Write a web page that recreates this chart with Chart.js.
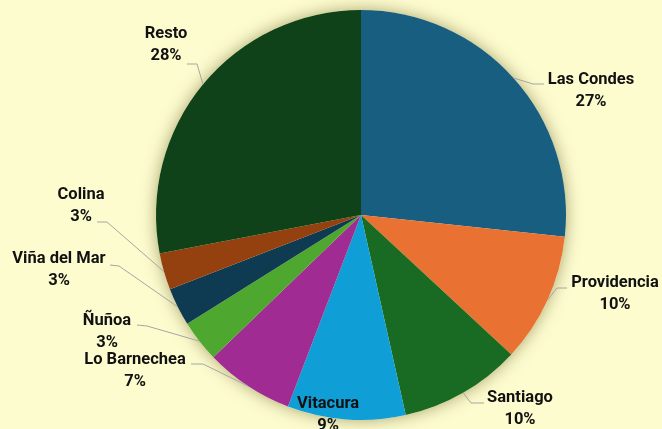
<!DOCTYPE html>
<html>
<head>
<meta charset="utf-8">
<script src="https://cdn.jsdelivr.net/npm/chart.js@4"></script>
<style>
  html, body { margin:0; padding:0; background:#FDFCCF; }
  #wrap { width:662px; height:429px; position:relative; }
</style>
</head>
<body>
<div id="wrap"><canvas id="pieChart"></canvas></div>
<script>
// data
const comunas = ['Las Condes','Providencia','Santiago','Vitacura','Lo Barnechea','Ñuñoa','Viña del Mar','Colina','Resto'];
const shares  = [26.7, 10.2, 9.6, 9.3, 7.0, 3.3, 3.0, 2.9, 28.0];
const pctLabels = ['27%','10%','10%','9%','7%','3%','3%','3%','28%'];
const sliceColors = ['#175E81','#E97132','#196B24','#0F9ED5','#A02B93','#4EA72E','#0E3A52','#94400F','#0F4218'];

// label layout: text centre + leader knee (null = no leader)
const labelLayout = [
  { x:591, y:80,  knee:[533,84],  end:[544,84]  },
  { x:615, y:283, knee:[557,288], end:[567,288] },
  { x:520, y:398, knee:[471,403], end:[484,403] },
  { x:328, y:404, knee:null },
  { x:135, y:360, knee:[203,364], end:[191,364] },
  { x:107, y:321, knee:[147,326], end:[137,325] },
  { x:59,  y:259, knee:[119,266], end:[110,265] },
  { x:81,  y:195, knee:[107,222], end:[97,222]  },
  { x:166, y:34,  knee:[197,64],  end:[187,64]  }
];

document.addEventListener('DOMContentLoaded', () => {
  // soft shadow round the pie
  const shadowPlugin = {
    id:'pieShadow',
    beforeDatasetsDraw(chart) {
      const arc = chart.getDatasetMeta(0).data[0];
      if (!arc) return;
      const ctx = chart.ctx;
      ctx.save();
      ctx.shadowColor = 'rgba(90,80,20,0.5)';
      ctx.shadowBlur = 16;
      ctx.fillStyle = '#FDFCCF';
      ctx.beginPath();
      ctx.arc(arc.x, arc.y, arc.outerRadius, 0, Math.PI*2);
      ctx.fill();
      ctx.restore();
    }
  };

  // outside labels with leader lines
  const labelPlugin = {
    id:'pieLabels',
    afterDatasetsDraw(chart) {
      const ctx = chart.ctx;
      const arcs = chart.getDatasetMeta(0).data;
      ctx.save();
      arcs.forEach((arc, i) => {
        const lay = labelLayout[i];
        if (lay.knee) {
          const mid = (arc.startAngle + arc.endAngle) / 2;
          const px = arc.x + Math.cos(mid) * arc.outerRadius;
          const py = arc.y + Math.sin(mid) * arc.outerRadius;
          ctx.strokeStyle = '#A5A5A5';
          ctx.lineWidth = 1;
          ctx.beginPath();
          ctx.moveTo(px, py);
          ctx.lineTo(lay.knee[0], lay.knee[1]);
          ctx.lineTo(lay.end[0], lay.end[1]);
          ctx.stroke();
        }
        ctx.fillStyle = '#111';
        ctx.font = 'bold 16.5px Roboto';
        ctx.textAlign = 'center';
        ctx.textBaseline = 'middle';
        ctx.fillText(comunas[i], lay.x, lay.y);
        ctx.fillText(pctLabels[i], lay.x, lay.y + 22);
      });
      ctx.restore();
    }
  };

  new Chart(document.getElementById('pieChart'), {
    type:'pie',
    data:{
      labels:comunas,
      datasets:[{
        data:shares,
        backgroundColor:sliceColors,
        borderWidth:0,
        hoverOffset:0
      }]
    },
    options:{
      responsive:true,
      maintainAspectRatio:false,
      animation:false,
      layout:{ padding:{ left:156, right:96, top:10, bottom:9 } },
      plugins:{
        legend:{ display:false },
        tooltip:{ enabled:false }
      }
    },
    plugins:[shadowPlugin, labelPlugin]
  });
});
</script>
</body>
</html>
